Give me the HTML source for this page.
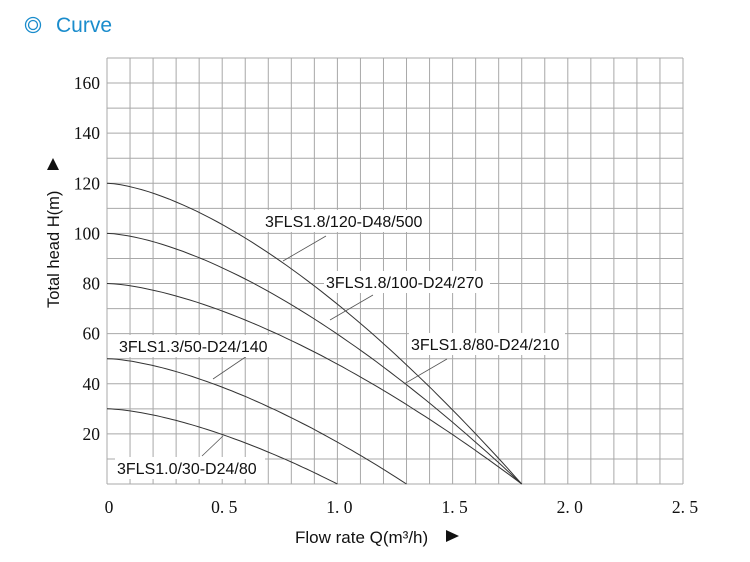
<!DOCTYPE html>
<html><head><meta charset="utf-8"><style>
body{margin:0;background:#fff;width:750px;height:557px;overflow:hidden;font-family:"Liberation Sans",sans-serif}
</style></head><body>
<svg id="s" width="750" height="557" xmlns="http://www.w3.org/2000/svg">
<circle cx="33" cy="25" r="7.5" fill="none" stroke="#1a8ccc" stroke-width="1.3"/>
<circle cx="33" cy="25" r="4.5" fill="none" stroke="#1a8ccc" stroke-width="1.3"/>
<text x="56" y="32" font-family="Liberation Sans" font-size="21" fill="#1a8ccc">Curve</text>
<g id="grid" stroke="#a8a8a8" stroke-width="1"></g>
<g id="curves" fill="none" stroke="#333" stroke-width="1"></g>
<g font-family="Liberation Serif" font-size="17.5" fill="#111" text-anchor="end" id="yl"></g>
<g font-family="Liberation Serif" font-size="17.5" fill="#111" text-anchor="middle" id="xl"></g>
<g stroke="#555" stroke-width="0.8">
<line x1="283" y1="261" x2="326" y2="236"/>
<line x1="330" y1="320" x2="373" y2="295"/>
<line x1="404" y1="384" x2="447" y2="359"/>
<line x1="213" y1="379" x2="247" y2="356"/>
<line x1="202" y1="456" x2="223" y2="436"/>
</g>
<g font-family="Liberation Sans" font-size="16" fill="#111">
<rect x="263" y="210" width="166" height="22" fill="#fff"/><text x="265" y="227">3FLS1.8/120-D48/500</text>
<rect x="324" y="271" width="166" height="22" fill="#fff"/><text x="326" y="288">3FLS1.8/100-D24/270</text>
<rect x="409" y="333" width="156" height="22" fill="#fff"/><text x="411" y="350">3FLS1.8/80-D24/210</text>
<rect x="117" y="335" width="156" height="22" fill="#fff"/><text x="119" y="352">3FLS1.3/50-D24/140</text>
<rect x="115" y="457" width="150" height="22" fill="#fff"/><text x="117" y="474">3FLS1.0/30-D24/80</text>
</g>
<text transform="translate(59,308) rotate(-90)" font-family="Liberation Sans" font-size="16.5" fill="#111">Total head H(m)</text>
<polygon points="47,170 59,170 53,158" fill="#111"/>
<text x="295" y="543" font-family="Liberation Sans" font-size="17" fill="#111">Flow rate Q(m³/h)</text>
<polygon points="446,530 446,542 459,536" fill="#111"/>
</svg>
<script>
var L=107,R=683,B=484,T=58,px=(R-L)/2.5,py=(B-83)/160;
var g=document.getElementById('grid'),h='';
for(var i=0;i<=25;i++){var x=L+i*px/10;h+='<line x1="'+x+'" y1="'+T+'" x2="'+x+'" y2="'+B+'"/>';}
for(var j=0;j<=17;j++){var y=B-j*10*py;h+='<line x1="'+L+'" y1="'+y+'" x2="'+R+'" y2="'+y+'"/>';}
g.innerHTML=h+'<line x1="'+L+'" y1="'+T+'" x2="'+R+'" y2="'+T+'"/>';
var c=[[120,1.8],[100,1.8],[80,1.8],[50,1.3],[30,1.0]],s='';
c.forEach(function(a){var d='';for(var k=0;k<=60;k++){var q=a[1]*k/60,H=a[0]*(1-Math.pow(q/a[1],1.55));d+=(k?'L':'M')+(L+q*px).toFixed(1)+','+(B-H*py).toFixed(1);}s+='<path d="'+d+'"/>';});
document.getElementById('curves').innerHTML=s;
var yl='';for(var v=20;v<=160;v+=20)yl+='<text x="100" y="'+(B-v*py+6)+'">'+v+'</text>';
document.getElementById('yl').innerHTML=yl;
var xs=['0','0. 5','1. 0','1. 5','2. 0','2. 5'],xl='';
xs.forEach(function(t,i){xl+='<text x="'+(L+i*0.5*px+2)+'" y="513">'+t+'</text>';});
document.getElementById('xl').innerHTML=xl;
</script>
</body></html>
